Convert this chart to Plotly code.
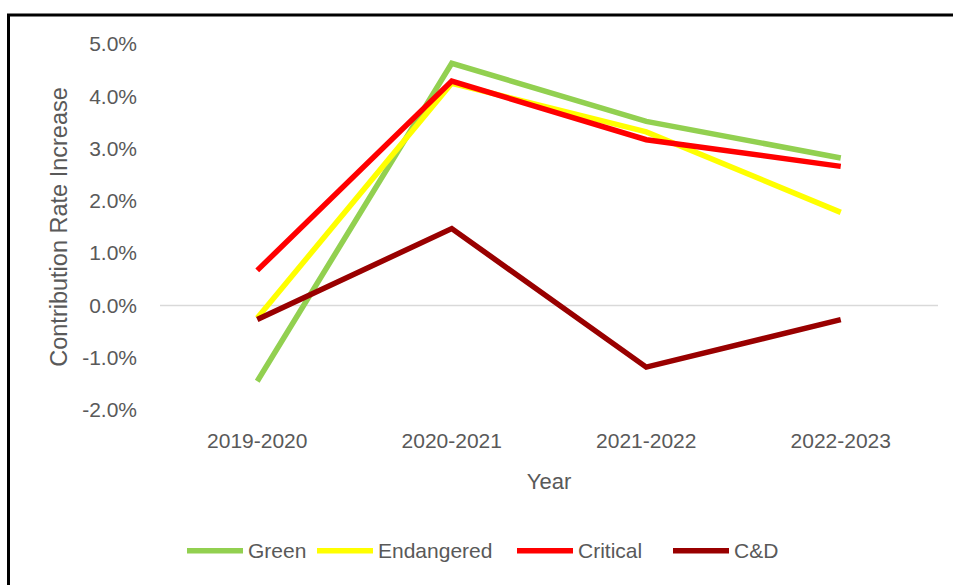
import plotly.graph_objects as go

# Contribution rate increase by plan year and zone status
years = ["2019-2020", "2020-2021", "2021-2022", "2022-2023"]
green = [-1.45, 4.63, 3.52, 2.82]
endangered = [-0.24, 4.25, 3.32, 1.78]
critical = [0.67, 4.29, 3.17, 2.66]
cd = [-0.27, 1.47, -1.18, -0.27]

series_names = ["Green", "Endangered", "Critical", "C&D"]
series_values = [green, endangered, critical, cd]
series_colors = ["#92D050", "#FFFF00", "#FF0000", "#990000"]

y_ticks = [-2, -1, 0, 1, 2, 3, 4, 5]

FONT = "Liberation Sans, Arial, sans-serif"
GREY = "#595959"

W, H = 953, 585
L, R, T, B = 160, 15, 43.5, 175
plot_w = W - L - R
plot_h = H - T - B


def px_x(px):
    return (px - L) / plot_w


def px_y(py):
    return (H - B - py) / plot_h


fig = go.Figure()
for name, vals, col in zip(series_names, series_values, series_colors):
    fig.add_trace(go.Scatter(
        x=years, y=vals, name=name, mode="lines",
        line=dict(color=col, width=5.5),
        showlegend=False,
    ))

# zero baseline
fig.add_hline(y=0, line=dict(color="#D9D9D9", width=1.5), layer="below")

# chart frame
fig.add_shape(
    type="rect", xref="paper", yref="paper",
    x0=px_x(8.5), x1=px_x(990), y0=px_y(620), y1=px_y(14.5),
    line=dict(color="black", width=3), fillcolor="rgba(0,0,0,0)",
)

# legend row below the axis title
legend_y = 551
legend_starts = [187, 317, 517, 673]
swatch_len = 56
for name, col, x0 in zip(series_names, series_colors, legend_starts):
    fig.add_shape(
        type="line", xref="paper", yref="paper",
        x0=px_x(x0), x1=px_x(x0 + swatch_len),
        y0=px_y(legend_y), y1=px_y(legend_y),
        line=dict(color=col, width=5.5),
    )
    fig.add_annotation(
        xref="paper", yref="paper",
        x=px_x(x0 + swatch_len + 3), y=px_y(legend_y),
        xanchor="left", yanchor="middle", showarrow=False,
        text=name, font=dict(family=FONT, color=GREY, size=21),
    )

fig.update_layout(
    width=W, height=H,
    margin=dict(l=L, r=R, t=T, b=B, autoexpand=False),
    paper_bgcolor="white", plot_bgcolor="white",
    font=dict(family=FONT, color=GREY, size=21),
    showlegend=False,
    xaxis=dict(
        type="category", range=[-0.5, 3.5],
        showgrid=False, zeroline=False, showline=False, ticks="",
        tickfont=dict(family=FONT, color=GREY, size=21),
        ticklabelstandoff=16,
        title=dict(text="Year", font=dict(family=FONT, color=GREY, size=22), standoff=22),
    ),
    yaxis=dict(
        range=[-2, 5], tickvals=y_ticks,
        ticktext=[f"{v:.1f}%" for v in y_ticks],
        showgrid=False, zeroline=False, showline=False, ticks="",
        tickfont=dict(family=FONT, color=GREY, size=21),
        ticklabelstandoff=22,
        title=dict(text="Contribution Rate Increase",
                   font=dict(family=FONT, color=GREY, size=23.5), standoff=7),
    ),
)

fig.write_html("out.html")
